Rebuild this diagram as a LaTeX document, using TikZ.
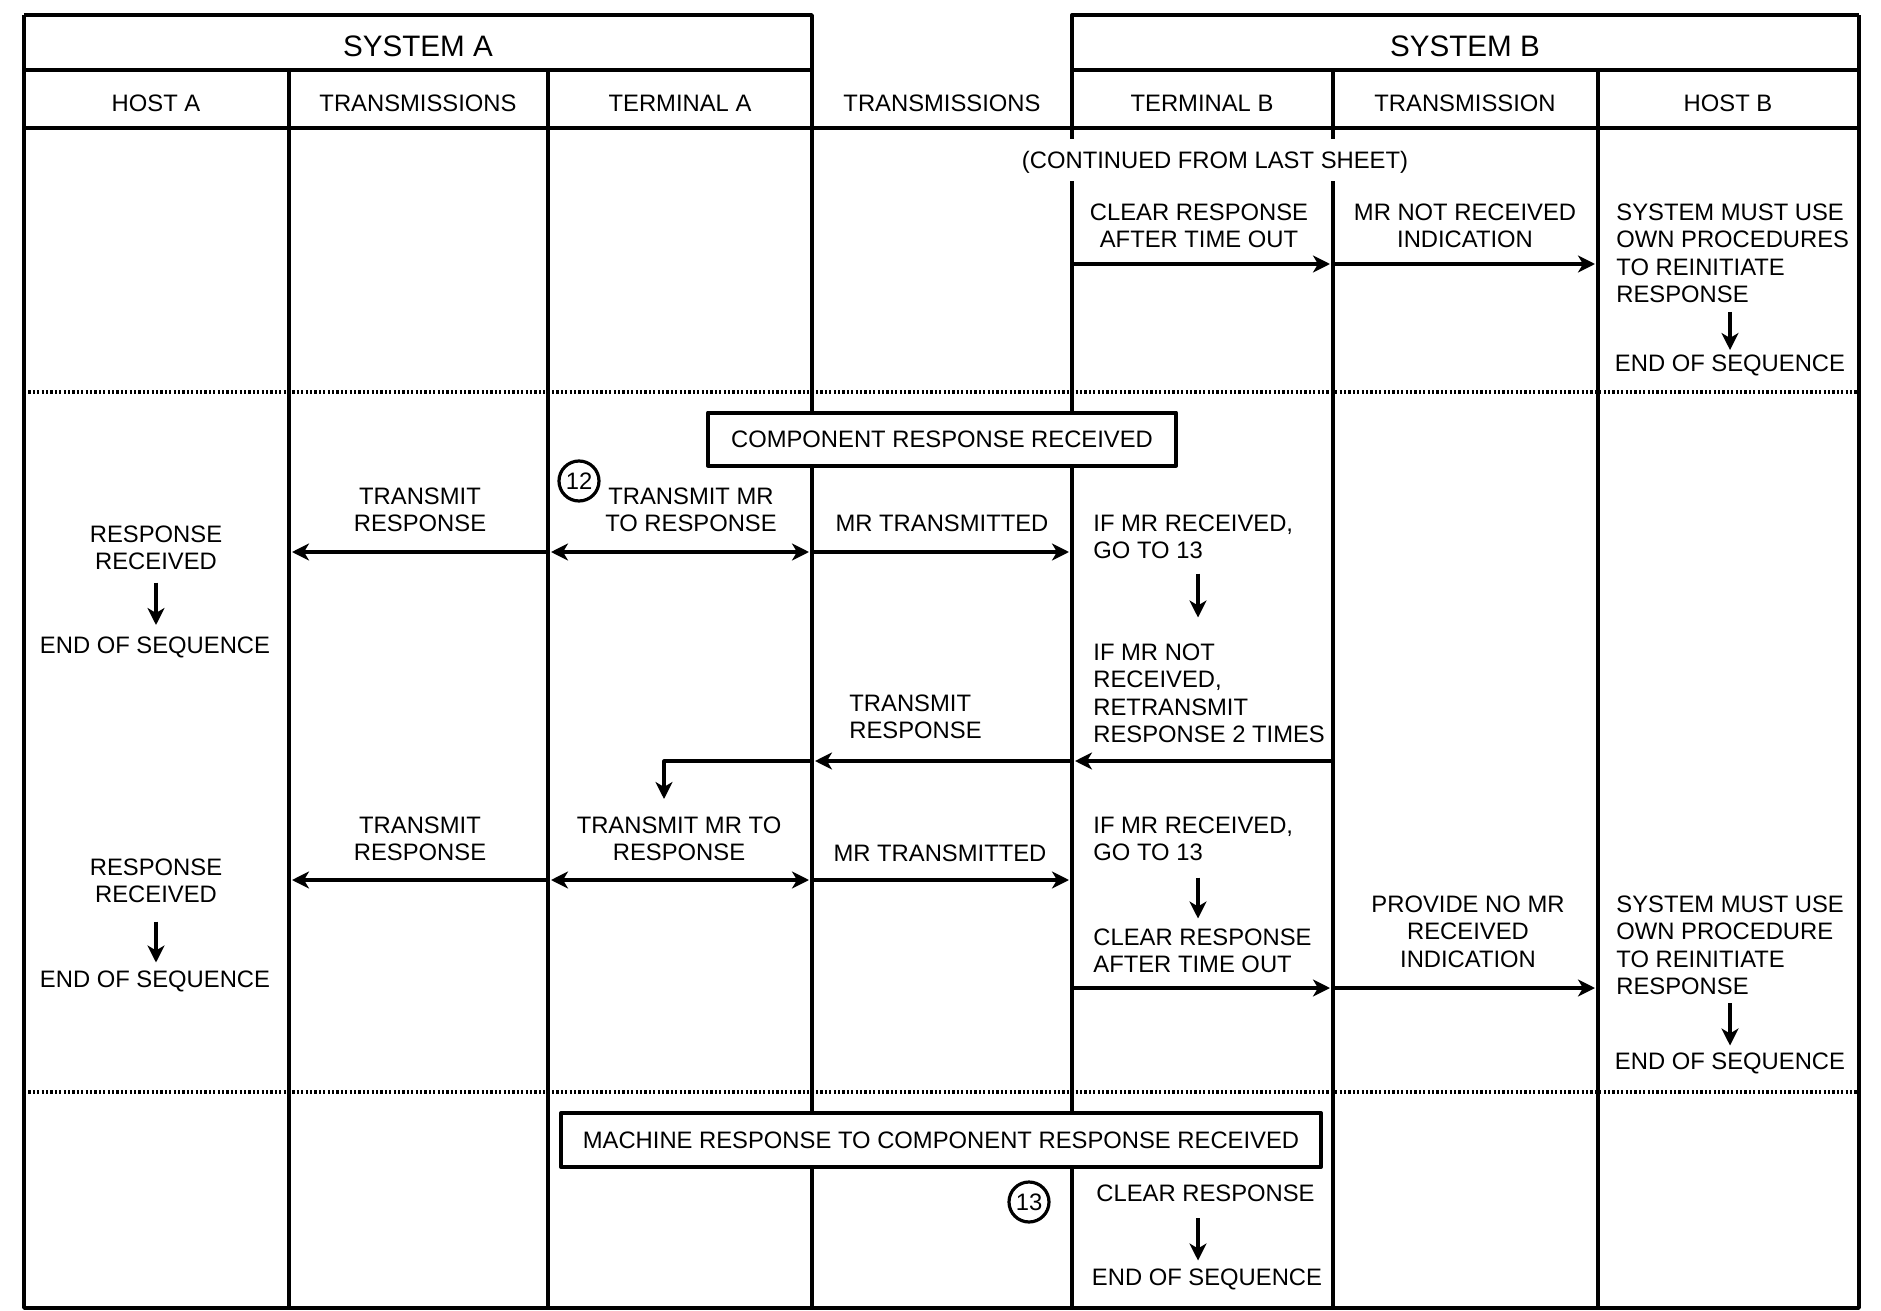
\documentclass[tikz,border=0pt]{standalone}
\usepackage{fontspec}
\setmainfont{Liberation Sans}
\usetikzlibrary{arrows.meta}
\newcommand\lblfont{\fontsize{11.9}{13.7}\selectfont}
\tikzset{
  lbl/.style={font=\lblfont, align=center, inner sep=0pt, anchor=north},
  lbll/.style={font=\lblfont, align=left, inner sep=0pt, anchor=north west},
  lane/.style={line width=1.7pt},
  sep/.style={line width=1.7pt, line cap=butt, dash pattern=on 1.1pt off 1.1pt},
  msg/.style={->, line width=1.6pt, shorten >=1.5pt},
  msgbox/.style={draw, line width=2pt, fill=white, font=\lblfont, inner sep=0pt},
  num/.style={circle, draw, line width=1.6pt, minimum size=20pt, inner sep=0pt, font=\lblfont},
}
\begin{document}
\begin{tikzpicture}[x=0.5pt, y=-0.5pt, line join=round, >={Stealth[length=8.5pt,width=8.5pt,inset=2.5pt]}]
\useasboundingbox (0,0) rectangle (1881,1311);
% lanes and frame
\coordinate (L0) at (24,15);
\coordinate (L1) at (289,70);
\coordinate (L2) at (548,70);
\coordinate (L3) at (812,15);
\coordinate (L4) at (1072,15);
\coordinate (L5) at (1333,70);
\coordinate (L6) at (1598,70);
\coordinate (L7) at (1859,15);
\coordinate (bot) at (0,1308);
\draw[lane] (L0) -- (L0|-bot) -- (L7|-bot) -- (L7);
\draw[lane] (L0) -- (L3) -- (L3|-bot);
\draw[lane] (L4|-bot) -- (L4) -- (L7);
\draw[lane] (24,70) -- (812,70);
\draw[lane] (1072,70) -- (1859,70);
\draw[lane] (24,128) -- (1859,128);
\foreach \l in {L1,L2,L5,L6}
  \draw[lane] (\l) -- (\l|-bot);
\coordinate (d1) at (0,392);
\coordinate (d2) at (0,1092);
\draw[sep] (L0|-d1) -- (L7|-d1);
\draw[sep] (L0|-d2) -- (L7|-d2);
% headers
\node[font=\fontsize{14.8}{16}\selectfont] (sysA) at (418,46) {SYSTEM A};
\node[font=\fontsize{14.8}{16}\selectfont] (sysB) at (1465,46) {SYSTEM B};
\foreach \x/\t [count=\i] in {156/HOST A, 418/TRANSMISSIONS, 680/TERMINAL A, 942/TRANSMISSIONS, 1202/TERMINAL B, 1465/TRANSMISSION, 1728/HOST B}
  \node[font=\lblfont] (col\i) at (\x,103) {\t};
\node[font=\lblfont, fill=white, inner xsep=2pt, minimum height=21pt, text depth=0pt] (cont) at (1215,160) {(CONTINUED FROM LAST SHEET)};

% first part
\coordinate (r0) at (0,264);
\node[lbl] (clr1) at (1199,203.5) {CLEAR RESPONSE\\AFTER TIME OUT};
\node[lbl] (mrn1) at (1465,203.5) {MR NOT RECEIVED\\INDICATION};
\node[lbll] (sys1) at (1616,203.5) {SYSTEM MUST USE\\OWN PROCEDURES\\TO REINITIATE\\RESPONSE};
\node[lbl] (end1) at (1730,354.5) {END OF SEQUENCE};
\draw[msg] (L4|-r0) -- (L5|-r0);
\draw[msg] (L5|-r0) -- (L6|-r0);
\draw[msg, shorten <=4.25pt, shorten >=2.25pt] (sys1.south -| end1.north) -- (end1.north);

% component response
\coordinate (r1) at (0,552);
\coordinate (r2) at (0,761);
\coordinate (r3) at (0,880);
\coordinate (r4) at (0,988);
\coordinate (tbx) at (1198,0);
\coordinate (elb) at (664,802);
\node[msgbox, minimum width=234pt, minimum height=26.5pt] (crr) at (942,439) {COMPONENT RESPONSE RECEIVED};
\node[num] (n12) at (579,481) {12};
\node[lbl] (tmr1) at (691,487.5) {TRANSMIT MR\\TO RESPONSE};
\node[lbl] (trs1) at (420,487.5) {TRANSMIT\\RESPONSE};
\node[lbl] (mrt1) at (942,514.5) {MR TRANSMITTED};
\node[lbl] (rcvA1) at (156,525.5) {RESPONSE\\RECEIVED};
\node[lbl] (endA1) at (155,636.5) {END OF SEQUENCE};
\node[lbll] (goA) at (1093,514.5) {IF MR RECEIVED,\\GO TO 13};
\node[lbll] (nrA) at (1093,643.5) {IF MR NOT\\RECEIVED,\\RETRANSMIT\\RESPONSE 2 TIMES};
\node[lbll] (trs2) at (849,694.5) {TRANSMIT\\RESPONSE};
\draw[msg] (L2|-r1) -- (L1|-r1);
\draw[msg, <->, shorten <=1.5pt] (L2|-r1) -- (L3|-r1);
\draw[msg] (L3|-r1) -- (L4|-r1);
\draw[msg, shorten <=6pt, shorten >=5.75pt] (rcvA1.south) -- (rcvA1.south |- endA1.north);
\draw[msg, shorten <=7pt, shorten >=13pt] (goA.south -| tbx) -- (nrA.north -| tbx);
\draw[msg] (L5|-r2) -- (L4|-r2);
\draw[msg] (L4|-r2) -- (L3|-r2);
\draw[msg] (L3|-r2) -| (elb);

% second try
\node[lbl] (trs3) at (420,816.5) {TRANSMIT\\RESPONSE};
\node[lbl] (tmr2) at (679,816.5) {TRANSMIT MR TO\\RESPONSE};
\node[lbl] (mrt2) at (940,844.5) {MR TRANSMITTED};
\node[lbl] (rcvA2) at (156,858.5) {RESPONSE\\RECEIVED};
\node[lbl] (endA2) at (155,970.5) {END OF SEQUENCE};
\node[lbll] (goB) at (1093,816.5) {IF MR RECEIVED,\\GO TO 13};
\node[lbll] (clr2) at (1093,928.5) {CLEAR RESPONSE\\AFTER TIME OUT};
\node[lbl] (pnm) at (1468,895.5) {PROVIDE NO MR\\RECEIVED\\INDICATION};
\node[lbll] (sys2) at (1616,895.5) {SYSTEM MUST USE\\OWN PROCEDURE\\TO REINITIATE\\RESPONSE};
\node[lbl] (end2) at (1730,1052.5) {END OF SEQUENCE};
\draw[msg] (L2|-r3) -- (L1|-r3);
\draw[msg, <->, shorten <=1.5pt] (L2|-r3) -- (L3|-r3);
\draw[msg] (L3|-r3) -- (L4|-r3);
\draw[msg, shorten <=9pt, shorten >=4pt] (rcvA2.south) -- (rcvA2.south |- endA2.north);
\draw[msg, shorten <=8pt, shorten >=5pt] (goB.south -| tbx) -- (clr2.north -| tbx);
\draw[msg] (L4|-r4) -- (L5|-r4);
\draw[msg] (L5|-r4) -- (L6|-r4);
\draw[msg, shorten <=4pt, shorten >=3.5pt] (sys2.south -| end2.north) -- (end2.north);

% machine response
\node[msgbox, minimum width=380pt, minimum height=27pt] (mrc) at (941,1140) {MACHINE RESPONSE TO COMPONENT RESPONSE RECEIVED};
\node[num] (n13) at (1029,1202) {13};
\node[lbll] (clr3) at (1096,1184.5) {CLEAR RESPONSE};
\node[lbl] (end3) at (1207,1268.5) {END OF SEQUENCE};
\draw[msg, shorten <=8pt, shorten >=4pt] (clr3.south -| tbx) -- (end3.north -| tbx);
\end{tikzpicture}
\end{document}
